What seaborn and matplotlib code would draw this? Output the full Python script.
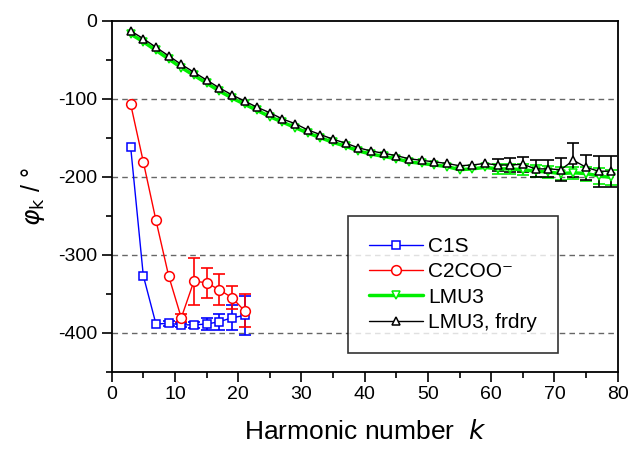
import matplotlib

matplotlib.use("Agg")
import matplotlib.pyplot as plt
from matplotlib.ticker import MultipleLocator
import pandas as pd
import seaborn as sns

# --- data --------------------------------------------------------------------
k_short = [3, 5, 7, 9, 11, 13, 15, 17, 19, 21]
c1s = [-162, -327, -389, -388, -390, -390, -389, -386, -381, -378]
c1s_err = [0, 0, 0, 3, 3, 4, 8, 10, 16, 25]
c2coo = [-107, -181, -256, -327, -381, -334, -336, -345, -355, -372]
c2coo_err = [0, 0, 0, 0, 5, 30, 19, 20, 15, 21]

k_long = list(range(3, 80, 2))
lmu3 = [-17, -27, -38, -49, -60, -70, -80, -90, -99, -107,
        -115, -123, -130, -137, -144, -150, -156, -161, -167, -171,
        -174, -177, -181, -183, -185, -187, -191, -190, -188, -190,
        -190, -191, -193, -194, -196, -195, -196, -199, -201]
lmu3_err = [0] * 29 + [6, 6, 7, 8, 8, 8, 8, 9, 10, 10]
frdry = [-13, -23, -34, -45, -56, -66, -76, -86, -95, -103,
         -111, -118, -126, -132, -140, -146, -152, -157, -163, -167,
         -170, -173, -177, -179, -181, -183, -186, -185, -183, -185,
         -185, -184, -190, -190, -191, -179, -188, -193, -193]
frdry_err = [0] * 29 + [8, 9, 9.5, 11, 11, 15, 22, 16, 20, 20]

sns.set_theme(style="ticks")
plt.rcParams["font.family"] = ["Liberation Sans", "DejaVu Sans"]
plt.rcParams["mathtext.fontset"] = "dejavusans"
plt.rcParams["axes.unicode_minus"] = False
for key in ["text.color", "axes.labelcolor", "xtick.color", "ytick.color"]:
    plt.rcParams[key] = "black"

fig = plt.figure(figsize=(6.31, 4.51), dpi=100)
ax = fig.add_axes([0.177, 0.176, 0.802, 0.778])

series = [
    ("C1S", k_short, c1s, c1s_err, "#0000ff", "s", 6, 1.0),
    ("C2COO\u207b", k_short, c2coo, c2coo_err, "#ff0000", "o", 7, 1.0),
    ("LMU3", k_long, lmu3, lmu3_err, "#00ee00", "v", 6, 2.5),
    ("LMU3, frdry", k_long, frdry, frdry_err, "#000000", "^", 6, 1.0),
]

for name, k, val, err, col, mk, ms, lw in series:
    df = pd.DataFrame({"k": k, "phi": val, "err": err})
    eb = df[df["err"] > 0]
    ax.errorbar(eb["k"], eb["phi"], yerr=eb["err"], fmt="none", ecolor=col,
                elinewidth=1.2, capsize=4, capthick=1.2, zorder=2)
    sns.lineplot(data=df, x="k", y="phi", ax=ax, color=col, lw=lw,
                 marker=mk, markersize=ms, markerfacecolor="white",
                 markeredgecolor=col, markeredgewidth=1.1, label=name,
                 zorder=3)

ax.set_xlim(0, 80)
ax.set_ylim(-450, 0)
ax.xaxis.set_major_locator(MultipleLocator(10))
ax.xaxis.set_minor_locator(MultipleLocator(5))
ax.yaxis.set_major_locator(MultipleLocator(100))
ax.yaxis.set_minor_locator(MultipleLocator(50))
ax.tick_params(which="major", direction="out", length=7, width=1.2,
               labelsize=14, colors="black")
ax.tick_params(which="minor", direction="out", length=4, width=1.2)
for y in [-100, -200, -300, -400]:
    ax.axhline(y, color="#666666", lw=1, ls=(0, (4, 3)), zorder=0)
for s in ax.spines.values():
    s.set_linewidth(1.3)
    s.set_color("black")

ax.set_xlabel("Harmonic number  $k$", fontsize=19, labelpad=12)
ax.set_ylabel(r"$\varphi_{\mathrm{k}}$ / °", fontsize=18, labelpad=8)

leg = ax.legend(loc="lower left", bbox_to_anchor=(0.467, 0.054), fontsize=15,
                frameon=True, fancybox=False, edgecolor="black",
                handlelength=2.6, handletextpad=0.25, labelspacing=0.3,
                borderpad=1.0, borderaxespad=0)
leg.get_frame().set_linewidth(1.2)

fig.savefig("out.png", dpi=100)
